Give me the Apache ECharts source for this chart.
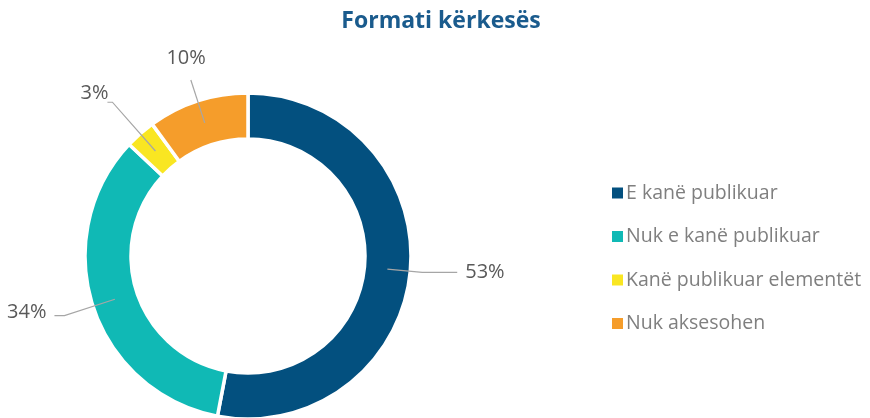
<!DOCTYPE html>
<html>
<head>
<meta charset="utf-8">
<script src="https://cdn.jsdelivr.net/npm/echarts@6/dist/echarts.min.js"></script>
<style>
  html, body { margin: 0; padding: 0; background: #fff; }
  #main { width: 870px; height: 418px; }
</style>
</head>
<body>
<div id="main"></div>
<script>
// te dhenat
var categories = ['E kanë publikuar', 'Nuk e kanë publikuar', 'Kanë publikuar elementët', 'Nuk aksesohen'];
var values = [53, 34, 3, 10];
var colors = ['#03507F', '#10B9B5', '#F9E622', '#F59D2B'];

// gjatesite e vijave te etiketave
var lineLen = [35, 53, 65, 45];
var lineLen2 = [35, 10, 5, 0];

var myChart = echarts.init(document.getElementById('main'));

var ringData = categories.map(function (name, i) {
  return { name: name, value: values[i], itemStyle: { color: colors[i] } };
});
var labelData = categories.map(function (name, i) {
  return {
    name: name,
    value: values[i],
    labelLine: { length: lineLen[i], length2: lineLen2[i] }
  };
});

var option = {
  animation: false,
  title: {
    text: 'Formati kërkesës',
    left: 436,
    top: 5,
    textAlign: 'center',
    textStyle: {
      fontFamily: 'Open Sans',
      fontSize: 23,
      fontWeight: 'bold',
      color: '#1A5B8D'
    }
  },
  legend: {
    orient: 'vertical',
    left: 605,
    top: 178,
    itemWidth: 13,
    itemHeight: 13,
    itemGap: 23.5,
    icon: 'rect',
    data: categories,
    textStyle: {
      fontFamily: 'Open Sans',
      fontSize: 19.5,
      color: '#7F7F7F',
      padding: [0, 0, 0, -3]
    }
  },
  series: [
    {
      name: 'Formati',
      type: 'pie',
      center: [248, 256],
      radius: [117, 163],
      startAngle: 90,
      clockwise: true,
      silent: true,
      z: 2,
      label: { show: false },
      labelLine: { show: false },
      itemStyle: { borderColor: '#fff', borderWidth: 3.5 },
      data: ringData
    },
    {
      name: 'Etiketat',
      type: 'pie',
      center: [248, 256],
      radius: [0, 140],
      startAngle: 90,
      clockwise: true,
      silent: true,
      z: 5,
      avoidLabelOverlap: false,
      itemStyle: { color: 'rgba(0,0,0,0)' },
      label: {
        show: true,
        position: 'outside',
        formatter: '{c}%',
        fontFamily: 'Open Sans',
        fontSize: 20,
        color: '#595959',
        distanceToLabelLine: 5
      },
      labelLine: {
        show: true,
        lineStyle: { color: '#A6A6A6', width: 1.2 }
      },
      labelLayout: function (params) {
        if (params.dataIndex === 0) {
          return { dx: 3 };
        }
        if (params.dataIndex === 1) {
          return { dx: -3, dy: -3 };
        }
        if (params.dataIndex === 2) {
          return { dx: 6, dy: -9 };
        }
        if (params.dataIndex === 3) {
          return { dx: 20, dy: -22 };
        }
        return {};
      },
      data: labelData
    }
  ]
};

myChart.setOption(option);
</script>
</body>
</html>
